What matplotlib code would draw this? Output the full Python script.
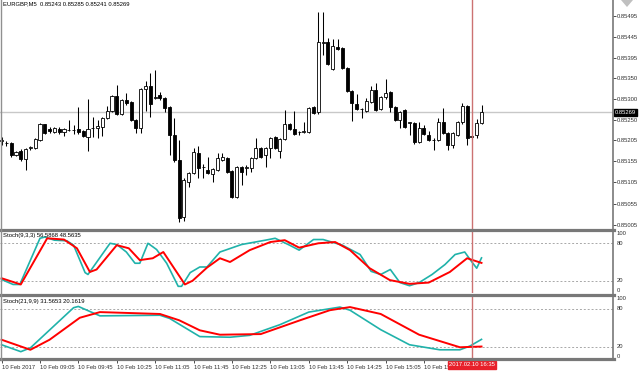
import matplotlib
matplotlib.use('Agg')
import matplotlib.pyplot as plt
from matplotlib.lines import Line2D
from matplotlib.patches import Polygon
import numpy as np

plt.rcParams['font.family'] = ['Liberation Sans', 'DejaVu Sans']

# EURGBP M5 candles, 10 Feb 2017 08:25 .. 16:45
opens = [0.85202, 0.85197, 0.85197, 0.85169, 0.85178, 0.85159, 0.85185, 0.85185, 0.85204, 0.85241,
         0.85230, 0.85223, 0.85230, 0.85223, 0.85227, 0.85227, 0.85230, 0.85225, 0.85211, 0.85232,
         0.85232, 0.85234, 0.85255, 0.85272, 0.85307, 0.85265, 0.85298, 0.85293, 0.85251, 0.85232,
         0.85323, 0.85330, 0.85302, 0.85309, 0.85302, 0.85281, 0.85216, 0.85157, 0.85024, 0.85106,
         0.85127, 0.85174, 0.85141, 0.85134, 0.85124, 0.85134, 0.85157, 0.85162, 0.85131, 0.85071,
         0.85141, 0.85138, 0.85138, 0.85162, 0.85185, 0.85169, 0.85185, 0.85211, 0.85178, 0.85206,
         0.85241, 0.85230, 0.85223, 0.85223, 0.85223, 0.85281, 0.85269, 0.85431, 0.85433, 0.85370,
         0.85422, 0.85419, 0.85372, 0.85319, 0.85288, 0.85276, 0.85272, 0.85293, 0.85321, 0.85276,
         0.85305, 0.85316, 0.85281, 0.85251, 0.85274, 0.85244, 0.85244, 0.85199, 0.85232, 0.85216,
         0.85204, 0.85204, 0.85246, 0.85220, 0.85192, 0.85216, 0.85246, 0.85284, 0.85211, 0.85216,
         0.85243]
highs = [0.85211, 0.85202, 0.85199, 0.85178, 0.85183, 0.85185, 0.85190, 0.85209, 0.85243, 0.85242,
         0.85234, 0.85234, 0.85234, 0.85232, 0.85251, 0.85239, 0.85281, 0.85227, 0.85300, 0.85258,
         0.85251, 0.85258, 0.85284, 0.85309, 0.85333, 0.85300, 0.85314, 0.85295, 0.85253, 0.85326,
         0.85342, 0.85361, 0.85368, 0.85316, 0.85305, 0.85284, 0.85255, 0.85204, 0.85115, 0.85129,
         0.85185, 0.85190, 0.85148, 0.85164, 0.85138, 0.85174, 0.85174, 0.85164, 0.85134, 0.85143,
         0.85143, 0.85145, 0.85164, 0.85209, 0.85188, 0.85188, 0.85211, 0.85213, 0.85209, 0.85274,
         0.85244, 0.85272, 0.85225, 0.85246, 0.85281, 0.85284, 0.85503, 0.85503, 0.85443, 0.85440,
         0.85440, 0.85422, 0.85375, 0.85321, 0.85312, 0.85279, 0.85302, 0.85330, 0.85337, 0.85307,
         0.85347, 0.85319, 0.85284, 0.85272, 0.85276, 0.85246, 0.85246, 0.85246, 0.85239, 0.85225,
         0.85209, 0.85255, 0.85279, 0.85223, 0.85223, 0.85248, 0.85291, 0.85286, 0.85216, 0.85253,
         0.85285]
lows = [0.85192, 0.85190, 0.85164, 0.85166, 0.85155, 0.85134, 0.85181, 0.85183, 0.85202, 0.85218,
        0.85220, 0.85220, 0.85218, 0.85213, 0.85225, 0.85218, 0.85218, 0.85211, 0.85178, 0.85211,
        0.85209, 0.85213, 0.85253, 0.85269, 0.85262, 0.85262, 0.85286, 0.85248, 0.85220, 0.85220,
        0.85272, 0.85258, 0.85300, 0.85298, 0.85269, 0.85169, 0.85152, 0.85012, 0.85014, 0.85094,
        0.85124, 0.85115, 0.85115, 0.85124, 0.85106, 0.85131, 0.85155, 0.85127, 0.85068, 0.85068,
        0.85099, 0.85122, 0.85129, 0.85159, 0.85162, 0.85141, 0.85162, 0.85183, 0.85162, 0.85204,
        0.85227, 0.85216, 0.85216, 0.85220, 0.85220, 0.85265, 0.85265, 0.85403, 0.85379, 0.85368,
        0.85415, 0.85370, 0.85316, 0.85248, 0.85274, 0.85255, 0.85269, 0.85291, 0.85272, 0.85274,
        0.85300, 0.85269, 0.85248, 0.85232, 0.85232, 0.85216, 0.85195, 0.85197, 0.85216, 0.85202,
        0.85181, 0.85202, 0.85218, 0.85181, 0.85185, 0.85213, 0.85241, 0.85192, 0.85209, 0.85209,
        0.85241]
closes = [0.85203, 0.85198, 0.85169, 0.85176, 0.85159, 0.85183, 0.85187, 0.85206, 0.85241, 0.85220,
          0.85225, 0.85232, 0.85223, 0.85230, 0.85228, 0.85227, 0.85223, 0.85213, 0.85230, 0.85233,
          0.85237, 0.85255, 0.85272, 0.85307, 0.85265, 0.85298, 0.85291, 0.85251, 0.85232, 0.85323,
          0.85330, 0.85288, 0.85305, 0.85302, 0.85279, 0.85216, 0.85157, 0.85021, 0.85110, 0.85127,
          0.85176, 0.85138, 0.85140, 0.85127, 0.85136, 0.85162, 0.85164, 0.85129, 0.85071, 0.85141,
          0.85129, 0.85140, 0.85162, 0.85185, 0.85164, 0.85185, 0.85209, 0.85185, 0.85206, 0.85241,
          0.85230, 0.85218, 0.85222, 0.85225, 0.85279, 0.85267, 0.85433, 0.85434, 0.85382, 0.85424,
          0.85417, 0.85372, 0.85319, 0.85291, 0.85276, 0.85277, 0.85295, 0.85321, 0.85274, 0.85305,
          0.85314, 0.85281, 0.85251, 0.85269, 0.85234, 0.85245, 0.85199, 0.85232, 0.85218, 0.85204,
          0.85205, 0.85246, 0.85220, 0.85192, 0.85220, 0.85246, 0.85284, 0.85209, 0.85213, 0.85244,
          0.85269]

price_ticks = [0.85495, 0.85445, 0.85395, 0.85350, 0.85300, 0.85250, 0.85205, 0.85155, 0.85105, 0.85055, 0.85005]
last_price = 0.85269

time_idx = [0, 8, 16, 24, 32, 40, 48, 56, 64, 72, 80, 88]
time_labels = ['10 Feb 2017', '10 Feb 09:05', '10 Feb 09:45', '10 Feb 10:25', '10 Feb 11:05',
               '10 Feb 11:45', '10 Feb 12:25', '10 Feb 13:05', '10 Feb 13:45', '10 Feb 14:25',
               '10 Feb 15:05', '10 Feb 15:45']
cursor_idx = 98
cursor_label = '2017.02.10 16:35'

# Stoch(9,3,3) (bar position, value)
st1_main_x = [0, 2.4, 3.8, 8, 9, 11, 13.6, 15, 17.4, 18, 22.6, 24, 26, 27.8, 28.8, 30.5, 32.3, 34.4,
              36.8, 37.5, 39.3, 41.3, 42.8, 45.5, 50, 55, 57, 60, 62, 65, 67, 71, 74.7, 77, 79,
              81, 83, 85, 87, 89.7, 92.4, 94.5, 96.5, 98, 99, 100]
st1_main_y = [22, 14, 14, 88, 90, 85, 84, 77, 33, 30, 80, 78, 66, 48, 48, 80, 70, 48,
              11, 11, 33, 42, 42, 66, 78, 85, 88, 77, 69, 86, 86, 77, 62, 35, 30,
              38, 17, 12, 17, 30, 46, 62, 66, 50, 40, 56.59]
st1_sig_x = [0, 4, 9.5, 13, 15.7, 18.4, 19.8, 24, 26.5, 28.8, 31.5, 33.7, 38.2, 39.8, 42.8, 45.5,
             47.6, 51.7, 56, 59, 62, 66, 69.5, 72.6, 76.7, 80.9, 85, 89, 93.4, 97, 98.6, 100]
st1_sig_y = [24, 14, 88, 86, 72, 34, 38, 77, 72, 53, 56, 66, 14, 20, 41, 56,
             50, 69, 82, 85, 73, 80, 82, 69, 40, 21, 15, 17, 34, 56, 52, 48.56]

# Stoch(21,9,9)
st2_main_x = [0, 4, 6, 15, 16, 20.5, 33, 35, 41.3, 47.6, 51.7, 58, 64, 70.5, 72.6, 79, 85, 91.3,
              95.5, 97.6, 100]
st2_main_y = [23, 12, 18, 82, 84, 69, 70, 65, 36, 35, 38, 55, 75, 83, 78, 47, 23, 15,
              15, 21, 31.57]
st2_sig_x = [0, 6, 10, 16.3, 20.5, 24.7, 33, 37, 41.3, 45.5, 54, 62.2, 68.4, 72.6, 79, 87, 95.5, 100]
st2_sig_y = [31, 15, 31, 66, 75, 74, 72, 62, 46, 39, 40, 62, 78, 83, 72, 39, 19, 20.16]

W, H = 640, 373
fig = plt.figure(figsize=(6.4, 3.73), dpi=100)
fig.patch.set_facecolor('white')


def rect(x0, y0, x1, y1):
    return [x0 / W, 1 - y1 / H, (x1 - x0) / W, (y1 - y0) / H]


xmin, xmax = -0.33, 127.4
gray = '#787878'
fs = 4.2

# main price panel
ax1 = fig.add_axes(rect(0, 0, 613, 229))
ax1.set_xlim(xmin, xmax)
ax1.set_ylim(0.849956, 0.855315)
x = np.arange(len(opens))
o = np.array(opens)
c = np.array(closes)
up = c >= o
ax1.vlines(x, lows, highs, color='black', lw=0.75, zorder=2)
body_lo = np.minimum(o, c)
body_h = np.maximum(np.abs(c - o), 0.000004)
ax1.bar(x[up], body_h[up], bottom=body_lo[up], width=0.64, color='white',
        edgecolor='black', linewidth=0.6, zorder=3)
ax1.bar(x[~up], body_h[~up], bottom=body_lo[~up], width=0.64, color='black',
        edgecolor='black', linewidth=0.6, zorder=3)
ax1.axhline(last_price, color='#c8c8c8', lw=1.0, zorder=1)
ax1.set_yticks(price_ticks)
ax1.set_yticklabels(['%.5f' % p for p in price_ticks])
ax1.yaxis.tick_right()
ax1.tick_params(axis='y', labelsize=fs, length=2, pad=1, colors='#303030', width=0.6)
ax1.set_xticks([])
ax1.text(1.003, last_price, '%.5f' % last_price, transform=ax1.get_yaxis_transform(),
         fontsize=fs, color='white', va='center', ha='left',
         bbox=dict(boxstyle='square,pad=0.2', fc='black', ec='black'))
ax1.text(0.005, 0.993, 'EURGBP,M5  0.85243 0.85285 0.85241 0.85269', transform=ax1.transAxes,
         fontsize=fs, va='top', ha='left', color='black')


def stoch_panel(rc, mx, my, sx, sy, title):
    ax = fig.add_axes(rc)
    ax.set_xlim(xmin, xmax)
    ax.set_ylim(0, 100)
    for lvl in (20, 80):
        ax.axhline(lvl, color='#a8a8a8', lw=0.7, ls=(0, (2, 2)), zorder=1)
    ax.plot(mx, my, color='#20b2aa', lw=1.2, zorder=3)
    ax.plot(sx, sy, color='#ff0000', lw=1.4, zorder=4)
    ax.set_xticks([])
    ax.set_yticks([])
    ax.text(0.005, 0.96, title, transform=ax.transAxes, fontsize=fs, va='top', ha='left')
    for val, va in ((100, 'top'), (80, 'center'), (20, 'center'), (0, 'bottom')):
        ax.text(1.006, val, str(val), transform=ax.get_yaxis_transform(), fontsize=fs,
                va=va, ha='left', color='#303030')
    for s in ax.spines.values():
        s.set_visible(False)
    return ax


ax2 = stoch_panel(rect(0, 230.8, 613, 293.2), st1_main_x, st1_main_y, st1_sig_x, st1_sig_y,
                  'Stoch(9,3,3) 56.5868 48.5635')
ax3 = stoch_panel(rect(0, 296.4, 613, 359.2), st2_main_x, st2_main_y, st2_sig_x, st2_sig_y,
                  'Stoch(21,9,9) 31.5653 20.1619')

for s in ax1.spines.values():
    s.set_visible(False)

# time axis on the bottom panel
ax3.set_xticks(time_idx)
ax3.set_xticklabels(time_labels)
ax3.tick_params(axis='x', labelsize=fs, length=3, pad=1.5, colors='#303030', width=0.6)
for lbl in ax3.get_xticklabels():
    lbl.set_ha('left')

# cursor line and its time label
for ax in (ax1, ax2, ax3):
    ax.axvline(cursor_idx, color='#cc7272', lw=1.0, zorder=5)
ax3.text(cursor_idx, -0.05, cursor_label, transform=ax3.get_xaxis_transform(), fontsize=fs,
         color='white', ha='center', va='top', zorder=10,
         bbox=dict(boxstyle='square,pad=0.25', fc='#e8202a', ec='#e8202a'))

# window frame: separators and right border
for yy in (229.8, 294.6, 359.2):
    fig.add_artist(Line2D([0, 613.5 / W], [1 - yy / H] * 2, color=gray, lw=2.3))
fig.add_artist(Line2D([613 / W] * 2, [1 - 359.5 / H, 1.0], color=gray, lw=1.2))
fig.add_artist(Line2D([0.5 / W] * 2, [1 - 359.5 / H, 1.0], color='#909090', lw=1.0))
fig.add_artist(Polygon([[621 / W, 1.0], [633 / W, 1.0], [627 / W, 1 - 7 / H]], closed=True,
                       fc='#c0c0c0', ec='none'))

fig.savefig('out.png', dpi=100, facecolor='white')
